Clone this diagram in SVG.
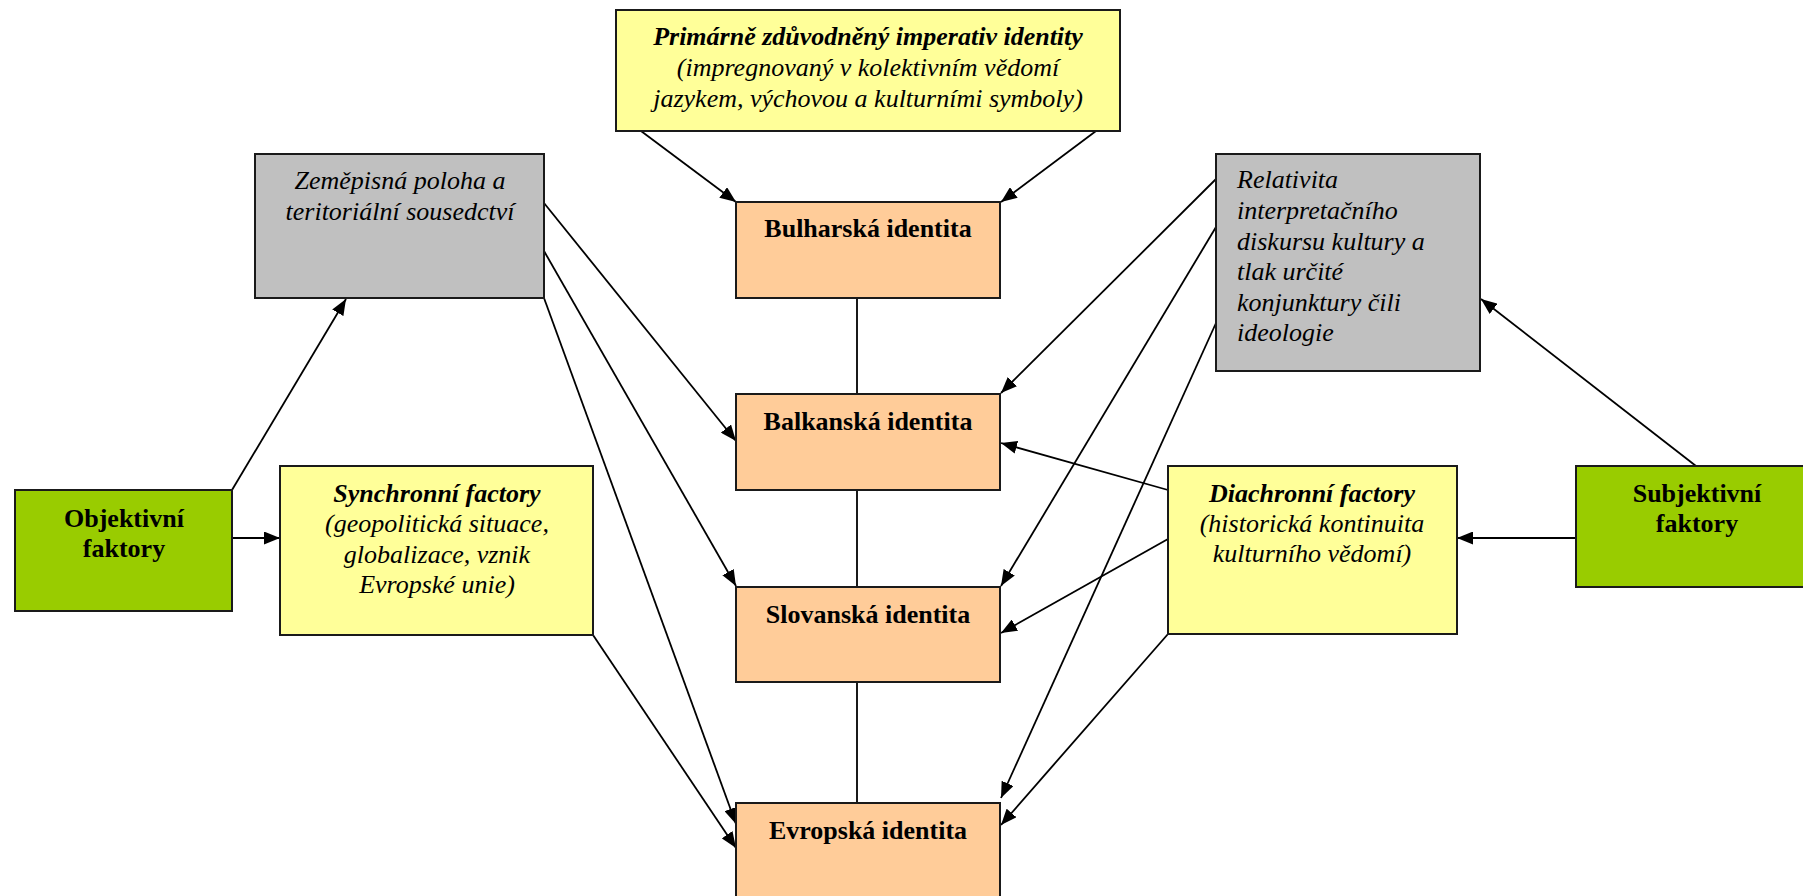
<svg xmlns="http://www.w3.org/2000/svg" width="1803" height="896" viewBox="0 0 1803 896">
<defs>
<marker id="arr" markerUnits="userSpaceOnUse" markerWidth="17" markerHeight="13" refX="16" refY="6.5" orient="auto">
<path d="M0,0 L16,6.5 L0,13 z" fill="#000"/>
</marker>
<style>
.box{stroke:#1a1a1a;stroke-width:2}
.yel{fill:#FFFF99}
.org{fill:#FFCC99}
.gry{fill:#C0C0C0}
.grn{fill:#99CC00}
text{font-family:"Liberation Serif","Times New Roman",serif;font-size:26px;fill:#000}
.c{text-anchor:middle}
.b{font-weight:bold}
.i{font-style:italic}
.con line{stroke:#000;stroke-width:1.8}
.con .a{marker-end:url(#arr)}
</style>
</defs>
<rect width="1803" height="896" fill="#fff"/>
<g class="con">
<line class="a" x1="641" y1="131" x2="736" y2="202"/>
<line class="a" x1="1096" y1="131" x2="1001" y2="202"/>
<line class="a" x1="544" y1="203" x2="736" y2="441"/>
<line class="a" x1="544" y1="251" x2="736" y2="586"/>
<line class="a" x1="544" y1="298" x2="736" y2="824"/>
<line class="a" x1="593" y1="635" x2="736" y2="848"/>
<line class="a" x1="232" y1="490" x2="346" y2="299"/>
<line class="a" x1="232" y1="538" x2="280" y2="538"/>
<line class="a" x1="1216" y1="179" x2="1001" y2="393"/>
<line class="a" x1="1216" y1="227" x2="1001" y2="586"/>
<line class="a" x1="1216" y1="323" x2="1001" y2="798"/>
<line class="a" x1="1168" y1="490" x2="1001" y2="443"/>
<line class="a" x1="1168" y1="539" x2="1001" y2="633"/>
<line class="a" x1="1168" y1="634" x2="1001" y2="825"/>
<line class="a" x1="1696" y1="466" x2="1481" y2="299"/>
<line class="a" x1="1576" y1="538" x2="1457" y2="538"/>
<line x1="857" y1="298" x2="857" y2="394"/>
<line x1="857" y1="490" x2="857" y2="587"/>
<line x1="857" y1="682" x2="857" y2="803"/>
</g>
<g id="imperativ">
<rect class="box yel" x="616" y="10" width="504" height="121"/>
<text class="c b i" x="868" y="45">Primárně zdůvodněný imperativ identity</text>
<text class="c i" x="868" y="76">(impregnovaný v kolektivním vědomí</text>
<text class="c i" x="868" y="107">jazykem, výchovou a kulturními symboly)</text>
</g>
<g id="bulharska">
<rect class="box org" x="736" y="202" width="264" height="96"/>
<text class="c b" x="868" y="237">Bulharská identita</text>
</g>
<g id="balkanska">
<rect class="box org" x="736" y="394" width="264" height="96"/>
<text class="c b" x="868" y="430">Balkanská identita</text>
</g>
<g id="slovanska">
<rect class="box org" x="736" y="587" width="264" height="95"/>
<text class="c b" x="868" y="623">Slovanská identita</text>
</g>
<g id="evropska">
<rect class="box org" x="736" y="803" width="264" height="120"/>
<text class="c b" x="868" y="839">Evropská identita</text>
</g>
<g id="zemepisna">
<rect class="box gry" x="255" y="154" width="289" height="144"/>
<text class="c i" x="400" y="189">Zeměpisná poloha a</text>
<text class="c i" x="400" y="220">teritoriální sousedctví</text>
</g>
<g id="objektivni">
<rect class="box grn" x="15" y="490" width="217" height="121"/>
<text class="c b" x="124" y="527">Objektivní</text>
<text class="c b" x="124" y="557">faktory</text>
</g>
<g id="synchronni">
<rect class="box yel" x="280" y="466" width="313" height="169"/>
<text class="c b i" x="437" y="502">Synchronní factory</text>
<text class="c i" x="437" y="532">(geopolitická situace,</text>
<text class="c i" x="437" y="563">globalizace, vznik</text>
<text class="c i" x="437" y="593">Evropské unie)</text>
</g>
<g id="relativita">
<rect class="box gry" x="1216" y="154" width="264" height="217"/>
<text class="i" x="1237" y="188">Relativita</text>
<text class="i" x="1237" y="219">interpretačního</text>
<text class="i" x="1237" y="250">diskursu kultury a</text>
<text class="i" x="1237" y="280">tlak určité</text>
<text class="i" x="1237" y="311">konjunktury čili</text>
<text class="i" x="1237" y="341">ideologie</text>
</g>
<g id="diachronni">
<rect class="box yel" x="1168" y="466" width="289" height="168"/>
<text class="c b i" x="1312" y="502">Diachronní factory</text>
<text class="c i" x="1312" y="532">(historická kontinuita</text>
<text class="c i" x="1312" y="562">kulturního vědomí)</text>
</g>
<g id="subjektivni">
<rect class="box grn" x="1576" y="466" width="242" height="121"/>
<text class="c b" x="1697" y="502">Subjektivní</text>
<text class="c b" x="1697" y="532">faktory</text>
</g>
</svg>
